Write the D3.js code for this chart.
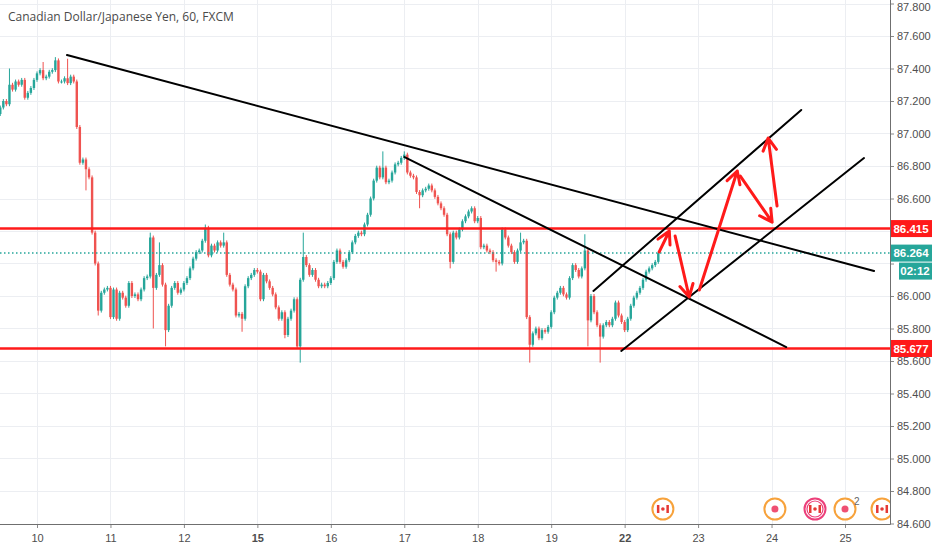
<!DOCTYPE html>
<html>
<head>
<meta charset="utf-8">
<script src="https://cdn.jsdelivr.net/npm/d3@7/dist/d3.min.js"></script>
<style>
  body { margin: 0; background: #fff; }
  svg { display: block; font-family: "Liberation Sans", Arial, sans-serif; }
</style>
</head>
<body>
<svg id="chart"></svg>
<script>
// --- data (hourly bars, CAD/JPY) ---
var title = 'Canadian Dollar/Japanese Yen, 60, FXCM';
var days = ['10', '11', '12', '15', '16', '17', '18', '19', '22', '23', '24', '25'];
var boldDays = ['15', '22'];
var priceTicks = [84.6, 84.8, 85.0, 85.2, 85.4, 85.6, 85.8, 86.0, 86.2, 86.4, 86.6, 86.8, 87.0, 87.2, 87.4, 87.6, 87.8];

var firstOpen = 87.12;
var closes = [
  87.16, 87.20, 87.18, 87.30, 87.27, 87.32, 87.30, 87.33, 87.22, 87.25,
  87.28, 87.33, 87.37, 87.39, 87.34, 87.35, 87.38, 87.39, 87.45, 87.32,
  87.32, 87.34, 87.31, 87.35, 87.32, 87.04, 86.82, 86.84, 86.78, 86.73,
  86.39, 86.20, 85.91, 86.02, 86.04, 86.05, 85.87, 86.04, 85.86, 86.02,
  85.99, 85.94, 86.08, 86.00, 86.01, 85.98, 86.04, 86.11, 86.12, 86.36,
  86.05, 86.13, 86.19, 86.07, 85.79, 85.94, 86.05, 86.08, 86.02, 86.04,
  86.08, 86.11, 86.17, 86.23, 86.27, 86.28, 86.34, 86.42, 86.25, 86.31,
  86.28, 86.33, 86.31, 86.33, 86.13, 86.07, 86.04, 85.88, 85.89, 85.86,
  86.06, 86.11, 86.13, 86.16, 86.15, 85.98, 86.13, 86.09, 86.05, 86.01,
  85.93, 85.86, 85.90, 85.76, 85.86, 85.91, 85.98, 85.69, 86.10, 86.24,
  86.19, 86.13, 86.16, 86.10, 86.06, 86.07, 86.06, 86.08, 86.11, 86.21,
  86.28, 86.21, 86.18, 86.22, 86.27, 86.33, 86.37, 86.39, 86.38, 86.44,
  86.50, 86.60, 86.71, 86.79, 86.73, 86.79, 86.70, 86.71, 86.76, 86.81,
  86.82, 86.85, 86.87, 86.76, 86.74, 86.73, 86.64, 86.62, 86.65, 86.66,
  86.68, 86.65, 86.61, 86.57, 86.54, 86.50, 86.38, 86.21, 86.39, 86.36,
  86.41, 86.46, 86.49, 86.52, 86.54, 86.46, 86.48, 86.30, 86.31, 86.28,
  86.27, 86.22, 86.21, 86.20, 86.41, 86.36, 86.31, 86.27, 86.21, 86.28,
  86.33, 86.34, 85.87, 85.70, 85.77, 85.80, 85.74, 85.79, 85.78, 85.81,
  85.90, 85.99, 86.02, 86.05, 86.01, 85.99, 86.11, 86.19, 86.16, 86.12,
  86.17, 86.28, 85.85, 86.00, 85.90, 85.82, 85.75, 85.82, 85.84, 85.82,
  85.86, 85.96, 85.88, 85.84, 85.79, 85.86, 85.94, 85.99, 86.02, 86.05,
  86.10, 86.15, 86.17, 86.19, 86.21, 86.264
];
// visible long wicks: [bar, high, low]
var wickTips = [
  [3, 87.40, null], [14, 87.44, null], [18, 87.47, null], [22, 87.46, null],
  [28, null, 86.65], [32, null, 85.88], [49, 86.39, null], [50, null, 85.80],
  [52, 86.33, null], [54, null, 85.69], [67, 86.44, null], [73, 86.39, null],
  [79, null, 85.78], [93, null, 85.74], [98, null, 85.59], [99, 86.39, null],
  [125, 86.89, null], [132, 86.89, null], [137, null, 86.54], [147, null, 86.17],
  [162, null, 86.15], [170, 86.39, null], [173, null, 85.59], [191, 86.38, null],
  [192, null, 85.69], [196, null, 85.59]
];

var levels = [86.415, 85.677];
var lastPrice = 86.264;
var countdown = '02:12';

// drawn tools: [bar, price] end points
var trendLines = [
  [[21.8, 87.483], [285.5, 86.154]],
  [[132.1, 86.855], [256.8, 85.686]],
  [[193.8, 86.031], [261.7, 87.145]],
  [[202.9, 85.662], [282.2, 86.849]]
];
var arrows = [
  [[215.3, 86.271], [218.6, 86.40]],
  [[220.5, 86.369], [225.1, 85.994]],
  [[228.4, 86.037], [240.8, 86.769]],
  [[241.8, 86.738], [252.2, 86.455]],
  [[253.8, 86.554], [250.9, 86.972]]
];
var events = [
  [216.5, 'flag', 'orange'], [253.1, 'dot', 'orange'], [266.2, 'flag', 'pink'],
  [276.0, 'dot2', 'orange'], [288.1, 'flag', 'orange']
];

// --- layout ---
var W = 932, H = 550, plotW = 890, plotH = 524;
var UP = '#26a69a', DOWN = '#ef5350', LEVEL = '#ff1a1a';

var svg = d3.select('#chart').attr('width', W).attr('height', H);

var x = d3.scaleLinear().domain([12, 276]).range([37, 845]);
var y = d3.scaleLinear().domain([84.6, 87.8]).range([523.5, 3.5]);

svg.append('clipPath').attr('id', 'plot-clip')
  .append('rect').attr('width', plotW).attr('height', plotH);

// grid
var grid = svg.append('g').attr('stroke', '#eceef2').attr('stroke-width', 1);
grid.selectAll('.gh').data(priceTicks).enter().append('line')
  .attr('x1', 0).attr('x2', plotW)
  .attr('y1', d => Math.round(y(d)) + 0.5).attr('y2', d => Math.round(y(d)) + 0.5);
grid.selectAll('.gv').data(days).enter().append('line')
  .attr('x1', (d, i) => Math.round(x(12 + 24 * i)) + 0.5)
  .attr('x2', (d, i) => Math.round(x(12 + 24 * i)) + 0.5)
  .attr('y1', 0).attr('y2', plotH);

var plot = svg.append('g').attr('clip-path', 'url(#plot-clip)');

// candles
var candles = closes.map(function(c, i) {
  var o = i ? closes[i - 1] : firstOpen;
  return { i: i, o: o, c: c, h: Math.max(o, c) + 0.012, l: Math.min(o, c) - 0.012 };
});
wickTips.forEach(function(w) {
  if (w[1] !== null) candles[w[0]].h = w[1];
  if (w[2] !== null) candles[w[0]].l = w[2];
});

var bars = plot.append('g').selectAll('g').data(candles).enter().append('g')
  .attr('fill', d => d.c >= d.o ? UP : DOWN);
bars.append('rect')
  .attr('x', d => x(d.i) - 0.5).attr('width', 1)
  .attr('y', d => y(d.h)).attr('height', d => y(d.l) - y(d.h));
bars.append('rect')
  .attr('x', d => x(d.i) - 1.2).attr('width', 2.4)
  .attr('y', d => y(Math.max(d.o, d.c)))
  .attr('height', d => Math.max(1, Math.abs(y(d.o) - y(d.c))));

// last price dotted line
plot.append('line')
  .attr('x1', 0).attr('x2', plotW)
  .attr('y1', y(lastPrice)).attr('y2', y(lastPrice))
  .attr('stroke', UP).attr('stroke-width', 1.5).attr('stroke-dasharray', '1.5,2.5');

// horizontal levels
plot.selectAll('.level').data(levels).enter().append('line')
  .attr('x1', 0).attr('x2', plotW)
  .attr('y1', d => y(d)).attr('y2', d => y(d))
  .attr('stroke', LEVEL).attr('stroke-width', 2.5);

// trend lines
plot.selectAll('.trend').data(trendLines).enter().append('line')
  .attr('x1', d => x(d[0][0])).attr('y1', d => y(d[0][1]))
  .attr('x2', d => x(d[1][0])).attr('y2', d => y(d[1][1]))
  .attr('stroke', '#000').attr('stroke-width', 2).attr('stroke-linecap', 'round');

// arrows
function arrowPath(a) {
  var x0 = x(a[0][0]), y0 = y(a[0][1]), x1 = x(a[1][0]), y1 = y(a[1][1]);
  var ang = Math.atan2(y1 - y0, x1 - x0), len = 14, spread = 0.5;
  var hx1 = x1 - len * Math.cos(ang - spread), hy1 = y1 - len * Math.sin(ang - spread);
  var hx2 = x1 - len * Math.cos(ang + spread), hy2 = y1 - len * Math.sin(ang + spread);
  return 'M' + x0 + ',' + y0 + 'L' + x1 + ',' + y1 +
    'M' + hx1 + ',' + hy1 + 'L' + x1 + ',' + y1 + 'L' + hx2 + ',' + hy2;
}
plot.selectAll('.arrow').data(arrows).enter().append('path')
  .attr('d', arrowPath)
  .attr('fill', 'none').attr('stroke', LEVEL).attr('stroke-width', 3)
  .attr('stroke-linecap', 'round').attr('stroke-linejoin', 'round');

// economic event markers
var ev = plot.selectAll('.ev').data(events).enter().append('g')
  .attr('transform', d => 'translate(' + x(d[0]) + ',509)');
ev.append('circle').attr('r', 10.5).attr('fill', '#fff')
  .attr('stroke', d => d[2] === 'pink' ? '#ec407a' : '#f7a23b').attr('stroke-width', 2);
ev.filter(d => d[2] === 'pink').append('circle').attr('r', 8)
  .attr('fill', 'none').attr('stroke', '#ec407a').attr('stroke-width', 1.2);
var flags = ev.filter(d => d[1] === 'flag');
flags.append('rect').attr('x', -6).attr('y', -4).attr('width', 2.5).attr('height', 8).attr('fill', '#e53935');
flags.append('rect').attr('x', 3.5).attr('y', -4).attr('width', 2.5).attr('height', 8).attr('fill', '#e53935');
flags.append('circle').attr('r', 1.8).attr('fill', '#e53935');
ev.filter(d => d[1] !== 'flag').append('circle').attr('r', 3.5).attr('fill', '#ef5073');
ev.filter(d => d[1] === 'dot2').append('text')
  .attr('x', 9).attr('y', -4).attr('font-size', 10).attr('fill', '#666').text('2');

// axes
var tagged = levels.concat([lastPrice]);
var yAxis = svg.append('g').attr('transform', 'translate(' + plotW + ',0)')
  .call(d3.axisRight(y).tickValues(priceTicks).tickFormat(d3.format('.3f'))
    .tickSize(4).tickSizeOuter(0).tickPadding(3));
var xAxis = svg.append('g').attr('transform', 'translate(0,' + plotH + ')')
  .call(d3.axisBottom(x).tickValues(days.map((d, i) => 12 + 24 * i))
    .tickFormat((d, i) => days[i]).tickSize(4).tickSizeOuter(0).tickPadding(6));
[yAxis, xAxis].forEach(function(g) {
  g.select('.domain').remove();
  g.selectAll('.tick line').attr('stroke', '#8a8a8a');
  g.selectAll('text').attr('font-size', 11).attr('fill', '#4e4e4e')
    .attr('font-family', '"Liberation Sans", Arial, sans-serif');
});
// labels hidden behind the price tags, like the original
yAxis.selectAll('.tick text')
  .style('display', d => tagged.some(t => Math.abs(y(t) - y(d)) < 13 && Math.abs(y(t) - y(d)) < Math.abs(y(85.6) - y(85.677)) + 1 && d !== 85.6) ? 'none' : null)
  .attr('dy', d => d === 87.8 ? '0.6em' : '0.32em');
xAxis.selectAll('text').attr('font-weight', d => {
  var lab = days[(d - 12) / 24];
  return boldDays.indexOf(lab) >= 0 ? 'bold' : 'normal';
});

svg.append('line').attr('x1', plotW + 0.5).attr('x2', plotW + 0.5).attr('y1', 0).attr('y2', plotH + 0.5)
  .attr('stroke', '#6f6f6f');
svg.append('line').attr('x1', 0).attr('x2', plotW + 0.5).attr('y1', plotH + 0.5).attr('y2', plotH + 0.5)
  .attr('stroke', '#6f6f6f');

// price tags on the axis
var tags = svg.append('g');
levels.forEach(function(v) {
  tags.append('rect').attr('x', plotW + 1).attr('y', y(v) - 8.5).attr('width', W - plotW - 1).attr('height', 17)
    .attr('fill', LEVEL);
  tags.append('text').attr('x', 911).attr('y', y(v)).attr('dy', '0.35em').attr('text-anchor', 'middle')
    .attr('fill', '#fff').attr('font-size', 11.5).attr('font-weight', 'bold').text(v.toFixed(3));
});
tags.append('rect').attr('x', plotW + 1).attr('y', y(lastPrice) - 8.5).attr('width', W - plotW - 1).attr('height', 17)
  .attr('fill', UP);
tags.append('text').attr('x', 911).attr('y', y(lastPrice)).attr('dy', '0.35em').attr('text-anchor', 'middle')
  .attr('fill', '#fff').attr('font-size', 11.5).attr('font-weight', 'bold').text(lastPrice.toFixed(3));
tags.append('rect').attr('x', 899).attr('y', y(lastPrice) + 9.5).attr('width', 33).attr('height', 17)
  .attr('fill', UP);
tags.append('text').attr('x', 915).attr('y', y(lastPrice) + 18).attr('dy', '0.35em').attr('text-anchor', 'middle')
  .attr('fill', '#fff').attr('font-size', 11.5).attr('font-weight', 'bold').text(countdown);

// title
svg.append('text').attr('x', 8).attr('y', 21)
  .attr('font-family', '"Open Sans", sans-serif').attr('font-size', 12).attr('fill', '#4a4a4a')
  .text(title);
</script>
</body>
</html>
